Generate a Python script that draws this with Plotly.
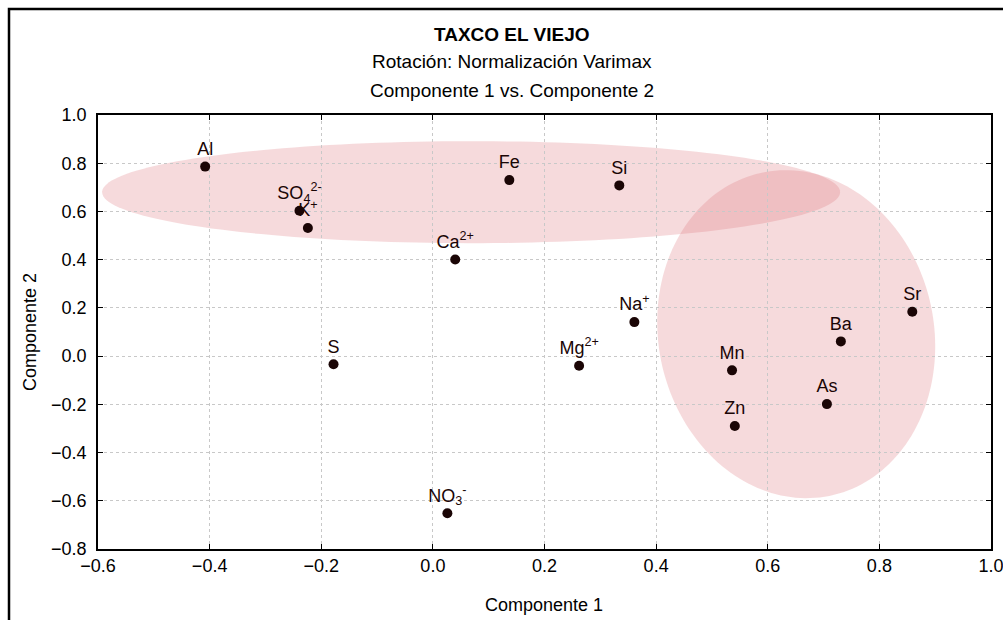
import numpy as np
import plotly.graph_objects as go

# Component loadings (Varimax-rotated) per variable
variables = ["Al", "SO<sub>4</sub><sup>2-</sup>", "K<sup>+</sup>", "Ca<sup>2+</sup>", "Fe", "Si",
             "Na<sup>+</sup>", "S", "Mg<sup>2+</sup>", "NO<sub>3</sub><sup>-</sup>",
             "Mn", "Zn", "As", "Ba", "Sr"]
comp1 = [-0.408, -0.239, -0.224, 0.040, 0.137, 0.334,
         0.361, -0.178, 0.262, 0.026,
         0.536, 0.541, 0.706, 0.731, 0.859]
comp2 = [0.786, 0.603, 0.531, 0.401, 0.730, 0.708,
         0.141, -0.034, -0.040, -0.652,
         -0.059, -0.290, -0.199, 0.061, 0.184]

x_range = [-0.6, 1.0]
y_range = [-0.8, 1.0]
x_ticks = [-0.6, -0.4, -0.2, 0.0, 0.2, 0.4, 0.6, 0.8, 1.0]
y_ticks = [-0.8, -0.6, -0.4, -0.2, 0.0, 0.2, 0.4, 0.6, 0.8, 1.0]

# Group ellipses: centre (data units), semi-axes (pixels), tilt (degrees)
groups = [
    dict(cx=0.0685, cy=0.680, a=369.0, b=51.0, angle=0.0),
    dict(cx=0.651, cy=0.091, a=137.7, b=165.1, angle=12.0),
]

W, H = 1003, 620
ML, MR, MT, MB = 98, 12, 115, 71
PW, PH = W - ML - MR, H - MT - MB
sx = PW / (x_range[1] - x_range[0])
sy = PH / (y_range[1] - y_range[0])

FONT = "Arial, Liberation Sans, sans-serif"


def ellipse_path(g, n=180):
    t = np.linspace(0, 2 * np.pi, n)
    th = np.radians(g["angle"])
    u = g["a"] * np.cos(t)
    v = g["b"] * np.sin(t)
    ur = u * np.cos(th) - v * np.sin(th)
    vr = u * np.sin(th) + v * np.cos(th)
    xs = g["cx"] + ur / sx
    ys = g["cy"] + vr / sy
    pts = [f"{x:.5f},{y:.5f}" for x, y in zip(xs, ys)]
    return "M " + " L ".join(pts) + " Z"


fig = go.Figure()
fig.add_trace(go.Scatter(
    x=comp1, y=comp2, mode="markers+text",
    text=variables, textposition="top center",
    textfont=dict(family=FONT, size=18, color="#1a0505"),
    marker=dict(size=10, color="#1a0505"),
    hoverinfo="skip", showlegend=False, cliponaxis=False,
))

shapes = []
for g in groups:
    shapes.append(dict(type="path", path=ellipse_path(g), xref="x", yref="y",
                       fillcolor="rgba(222,120,126,0.27)", line=dict(width=0),
                       layer="below"))


def px_x(p):
    return (p - ML) / PW


def px_y(p):
    return 1 - (p - MT) / PH


# Outer frame
shapes.append(dict(type="rect", xref="paper", yref="paper",
                   x0=px_x(9), x1=px_x(W + 20), y0=px_y(H + 20), y1=px_y(9),
                   line=dict(color="black", width=2.5), fillcolor="rgba(0,0,0,0)",
                   layer="above"))

annotations = [
    dict(text="<b>TAXCO EL VIEJO</b>", x=px_x(512), y=px_y(35), size=19),
    dict(text="Rotación: Normalización Varimax", x=px_x(512), y=px_y(62), size=19),
    dict(text="Componente 1 vs. Componente 2", x=px_x(512), y=px_y(90), size=19),
    dict(text="Componente 1", x=px_x(544), y=px_y(605), size=18),
    dict(text="Componente 2", x=px_x(30), y=px_y(332), size=18, textangle=-90),
]
for a in annotations:
    size = a.pop("size")
    a.update(xref="paper", yref="paper", showarrow=False,
             xanchor="center", yanchor="middle",
             font=dict(family=FONT, size=size, color="black"))

axis_common = dict(
    showline=True, mirror="ticks", linecolor="black", linewidth=1.5,
    ticks="inside", ticklen=5, tickwidth=1, tickcolor="black",
    showgrid=True, gridcolor="#c8c8c8", griddash="dot", gridwidth=1,
    zeroline=False, tickformat=".1f", automargin=False,
    ticklabeloverflow="allow",
    tickfont=dict(family=FONT, size=18, color="black"),
)

fig.update_layout(
    width=W, height=H,
    margin=dict(l=ML, r=MR, t=MT, b=MB),
    paper_bgcolor="white", plot_bgcolor="white",
    xaxis=dict(range=x_range, tickvals=x_ticks, ticklabelstandoff=0, **axis_common),
    yaxis=dict(range=y_range, tickvals=y_ticks, ticklabelstandoff=6, **axis_common),
    shapes=shapes, annotations=annotations,
)

fig.write_html("out.html")
